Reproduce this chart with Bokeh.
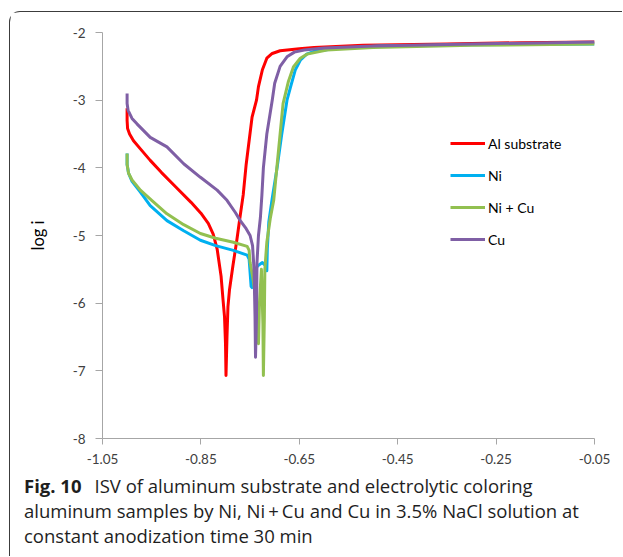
from bokeh.plotting import figure
from bokeh.models import Range1d, FixedTicker, Legend, LegendItem, Div
from bokeh.layouts import column
from bokeh.embed import file_html
from bokeh.resources import INLINE

# ---------------- data ----------------
x_ticks = [-1.05, -0.85, -0.65, -0.45, -0.25, -0.05]
x_tick_labels = ["-1.05", "-0.85", "-0.65", "-0.45", "-0.25", "-0.05"]
y_ticks = [-8, -7, -6, -5, -4, -3, -2]
y_tick_labels = ["-8", "-7", "-6", "-5", "-4", "-3", "-2"]

series_names = ["Al substrate", "Ni", "Ni + Cu", "Cu"]

al_E = [-1.0, -1.0, -0.999, -0.995, -0.987, -0.973, -0.953, -0.93, -0.90, -0.87,
        -0.85, -0.835, -0.825, -0.817, -0.809, -0.805, -0.802, -0.800, -0.799,
        -0.797, -0.795, -0.792, -0.785, -0.777, -0.770, -0.764, -0.758, -0.752, -0.746,
        -0.737, -0.733, -0.725, -0.716, -0.705, -0.689, -0.65, -0.62, -0.52, -0.35,
        -0.2, -0.05]
al_logi = [-3.12, -3.30, -3.42, -3.50, -3.60, -3.72, -3.89, -4.07, -4.29, -4.51,
           -4.67, -4.82, -4.98, -5.20, -5.60, -5.95, -6.2, -6.6, -7.07,
           -6.5, -6.05, -5.81, -5.45, -5.07, -4.70, -4.40, -3.95, -3.60, -3.25,
           -3.00, -2.80, -2.55, -2.38, -2.31, -2.27, -2.24, -2.22, -2.19, -2.17,
           -2.15, -2.14]

ni_E = [-1.0, -1.0, -0.997, -0.99, -0.973, -0.953, -0.919, -0.885, -0.851, -0.82,
        -0.784, -0.756, -0.752, -0.750, -0.748, -0.746, -0.744, -0.735, -0.725, -0.718,
        -0.716, -0.715, -0.712, -0.705, -0.695, -0.686, -0.675, -0.668, -0.658, -0.648,
        -0.635, -0.62, -0.58, -0.486, -0.3, -0.05]
ni_logi = [-3.79, -3.95, -4.08, -4.20, -4.36, -4.56, -4.78, -4.93, -5.07, -5.15,
           -5.22, -5.29, -5.35, -5.55, -5.75, -5.77, -5.60, -5.45, -5.40, -5.45,
           -5.52, -5.20, -4.80, -4.45, -3.99, -3.52, -3.00, -2.81, -2.55, -2.41,
           -2.32, -2.28, -2.24, -2.20, -2.18, -2.17]

nicu_E = [-1.0, -1.0, -0.997, -0.99, -0.973, -0.95, -0.919, -0.885, -0.851, -0.82,
          -0.784, -0.756, -0.752, -0.750, -0.745, -0.737, -0.733, -0.731, -0.727, -0.724,
          -0.723, -0.721, -0.720, -0.716, -0.709, -0.702, -0.695, -0.689, -0.683,
          -0.672, -0.662, -0.648, -0.634, -0.594, -0.5, -0.3, -0.05]
nicu_logi = [-3.79, -3.95, -4.08, -4.18, -4.33, -4.48, -4.68, -4.84, -4.97, -5.04,
             -5.10, -5.16, -5.22, -5.40, -5.60, -6.00, -6.60, -6.00, -5.50, -6.30,
             -7.07, -6.20, -5.50, -5.10, -4.75, -4.48, -3.95, -3.50, -3.05,
             -2.72, -2.51, -2.38, -2.32, -2.26, -2.22, -2.19, -2.17]

cu_E = [-1.0, -1.0, -0.998, -0.99, -0.98, -0.953, -0.919, -0.885, -0.851, -0.817,
        -0.797, -0.78, -0.77, -0.758, -0.750, -0.745, -0.742, -0.740, -0.739, -0.737,
        -0.736, -0.733, -0.729, -0.726, -0.723, -0.716, -0.705, -0.70, -0.689, -0.675,
        -0.66, -0.64, -0.6, -0.5, -0.3, -0.05]
cu_logi = [-2.90, -3.05, -3.15, -3.27, -3.35, -3.55, -3.69, -3.94, -4.14, -4.33,
           -4.48, -4.66, -4.78, -4.90, -5.00, -5.15, -5.50, -6.20, -6.80, -6.20,
           -5.40, -5.00, -4.73, -4.40, -4.00, -3.50, -3.00, -2.75, -2.50, -2.36,
           -2.29, -2.26, -2.23, -2.20, -2.17, -2.14]

colors = ["#FF0000", "#00B0F0", "#92C050", "#7F5FA5"]

caption_bold = "Fig. 10"
caption_lines = ["ISV of aluminum substrate and electrolytic coloring",
                 "aluminum samples by Ni, Ni\u2009+\u2009Cu and Cu in 3.5% NaCl solution at",
                 "constant anodization time 30 min"]

# ---------------- figure ----------------
p = figure(width=612, height=460, output_backend="svg", toolbar_location=None,
           x_range=Range1d(-1.05, -0.05), y_range=Range1d(-8, -2),
           min_border_left=92, min_border_right=28, min_border_top=20,
           min_border_bottom=34)
p.outline_line_color = None
p.xgrid.visible = False
p.ygrid.visible = False
p.background_fill_color = "white"
p.border_fill_color = "white"

FONT = "Lato"
for ax in (p.xaxis[0], p.yaxis[0]):
    ax.axis_line_color = "#a6a6a6"
    ax.axis_line_width = 1
    ax.major_tick_line_color = "#a6a6a6"
    ax.major_tick_in = 0
    ax.minor_tick_line_color = None
    ax.major_label_text_font = FONT
    ax.major_label_text_font_size = "13.5px"
    ax.major_label_text_color = "#404040"

p.xaxis[0].ticker = FixedTicker(ticks=x_ticks)
p.xaxis[0].major_label_overrides = {t: l for t, l in zip(x_ticks, x_tick_labels)}
p.xaxis[0].major_tick_out = 6
p.xaxis[0].major_label_standoff = 9

p.yaxis[0].ticker = FixedTicker(ticks=y_ticks)
p.yaxis[0].major_label_overrides = {t: l for t, l in zip(y_ticks, y_tick_labels)}
p.yaxis[0].major_tick_out = 7
p.yaxis[0].major_label_standoff = 10
p.yaxis[0].axis_label = "log i"
p.yaxis[0].axis_label_text_font = FONT
p.yaxis[0].axis_label_text_font_size = "16.5px"
p.yaxis[0].axis_label_text_font_style = "normal"
p.yaxis[0].axis_label_text_color = "#000000"
p.yaxis[0].axis_label_standoff = 22

renderers = []
for E, L, c in zip([al_E, ni_E, nicu_E, cu_E], [al_logi, ni_logi, nicu_logi, cu_logi], colors):
    r = p.line(E, L, line_color=c, line_width=3, line_join="round")
    renderers.append(r)

legend = Legend(items=[LegendItem(label=n, renderers=[r]) for n, r in zip(series_names, renderers)],
                location=(348, 189), padding=0, margin=0, spacing=12,
                glyph_width=35, glyph_height=20, label_height=20, label_standoff=3,
                label_text_font=FONT, label_text_font_size="14px",
                label_text_font_style="normal",
                label_text_color="#000000", border_line_color=None,
                background_fill_alpha=0)
p.add_layout(legend)

# ---------------- caption ----------------
cap_html = (
    "<div style=\"font-family:'Open Sans';font-size:18.5px;line-height:25px;"
    "color:#1e1e1e;padding:1px 0 0 14px;white-space:nowrap;\">"
    "<span style=\"font-weight:bold;margin-right:13px;\">" + caption_bold + "</span>"
    + caption_lines[0] + "<br>" + caption_lines[1] + "<br>" + caption_lines[2] +
    "</div>"
)
cap = Div(text=cap_html, width=612, height=84, margin=0)

root = column(p, cap, margin=(11, 0, 0, 9), spacing=0,
              styles={"border-left": "1.5px solid #3c3c3c",
                      "border-top": "1.5px solid #3c3c3c",
                      "border-top-left-radius": "11px",
                      "background-color": "white"})

open("out.html", "w").write(file_html(root, INLINE))
